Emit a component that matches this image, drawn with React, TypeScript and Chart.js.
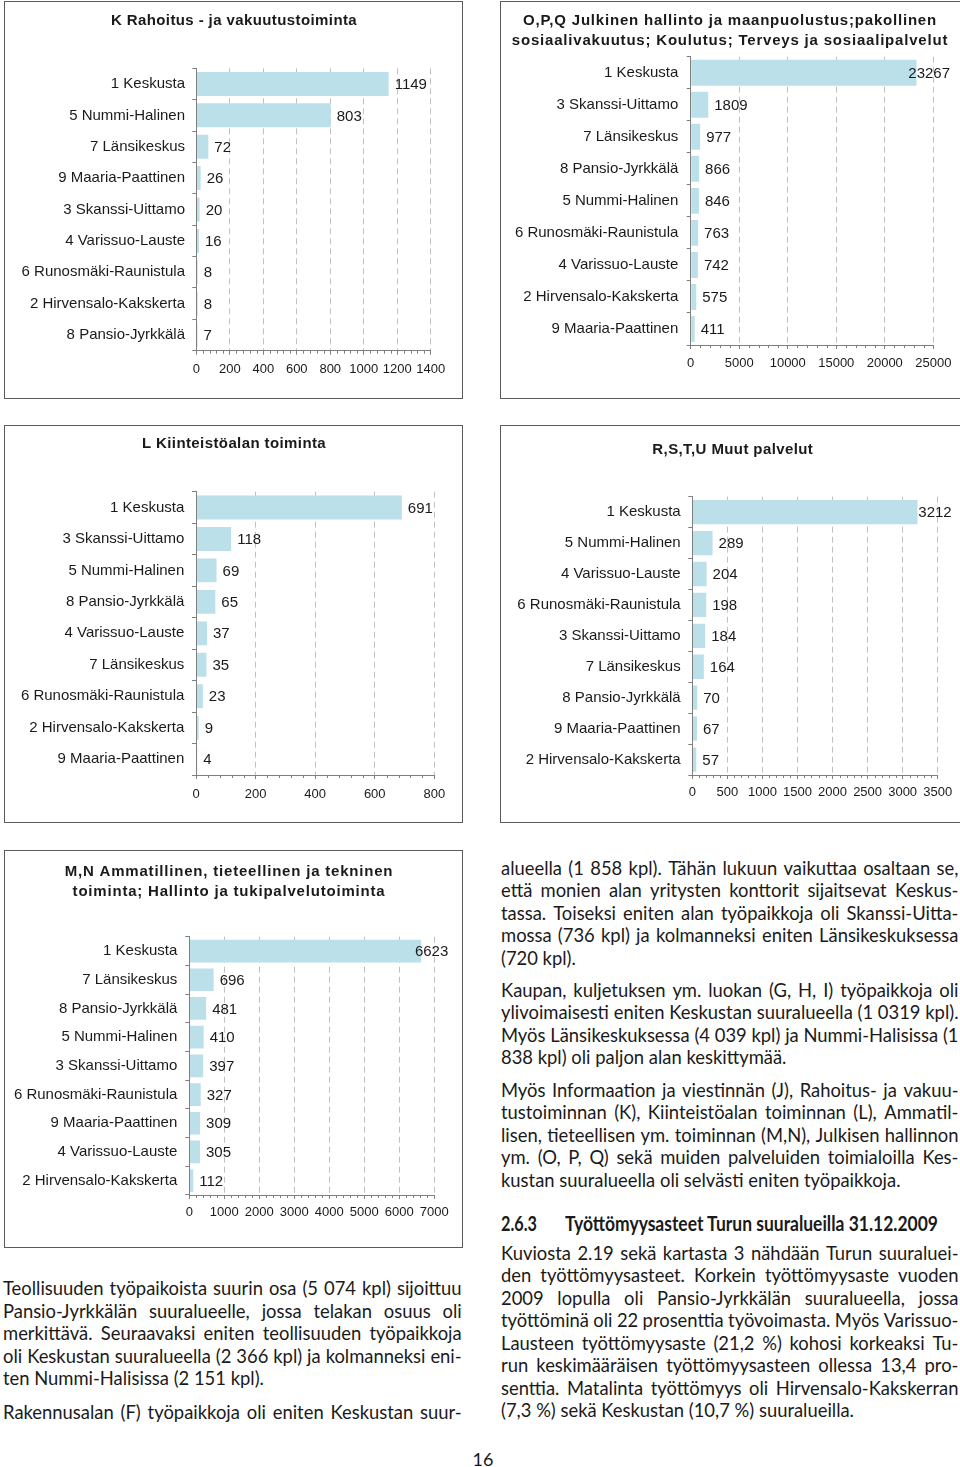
import React, { useEffect, useLayoutEffect, useRef } from 'react';
import { Chart, registerables } from 'chart.js';
Chart.register(...registerables);

// ---------- DATA ----------
const kLabels = ['1 Keskusta', '5 Nummi-Halinen', '7 Länsikeskus', '9 Maaria-Paattinen', '3 Skanssi-Uittamo', '4 Varissuo-Lauste', '6 Runosmäki-Raunistula', '2 Hirvensalo-Kakskerta', '8 Pansio-Jyrkkälä'];
const kValues = [1149, 803, 72, 26, 20, 16, 8, 8, 7];
const kTicks = [0, 200, 400, 600, 800, 1000, 1200, 1400];

const opqLabels = ['1 Keskusta', '3 Skanssi-Uittamo', '7 Länsikeskus', '8 Pansio-Jyrkkälä', '5 Nummi-Halinen', '6 Runosmäki-Raunistula', '4 Varissuo-Lauste', '2 Hirvensalo-Kakskerta', '9 Maaria-Paattinen'];
const opqValues = [23267, 1809, 977, 866, 846, 763, 742, 575, 411];
const opqTicks = [0, 5000, 10000, 15000, 20000, 25000];

const lLabels = ['1 Keskusta', '3 Skanssi-Uittamo', '5 Nummi-Halinen', '8 Pansio-Jyrkkälä', '4 Varissuo-Lauste', '7 Länsikeskus', '6 Runosmäki-Raunistula', '2 Hirvensalo-Kakskerta', '9 Maaria-Paattinen'];
const lValues = [691, 118, 69, 65, 37, 35, 23, 9, 4];
const lTicks = [0, 200, 400, 600, 800];

const rstuLabels = ['1 Keskusta', '5 Nummi-Halinen', '4 Varissuo-Lauste', '6 Runosmäki-Raunistula', '3 Skanssi-Uittamo', '7 Länsikeskus', '8 Pansio-Jyrkkälä', '9 Maaria-Paattinen', '2 Hirvensalo-Kakskerta'];
const rstuValues = [3212, 289, 204, 198, 184, 164, 70, 67, 57];
const rstuTicks = [0, 500, 1000, 1500, 2000, 2500, 3000, 3500];

const mnLabels = ['1 Keskusta', '7 Länsikeskus', '8 Pansio-Jyrkkälä', '5 Nummi-Halinen', '3 Skanssi-Uittamo', '6 Runosmäki-Raunistula', '9 Maaria-Paattinen', '4 Varissuo-Lauste', '2 Hirvensalo-Kakskerta'];
const mnValues = [6623, 696, 481, 410, 397, 327, 309, 305, 112];
const mnTicks = [0, 1000, 2000, 3000, 4000, 5000, 6000, 7000];

const kTitle = ['K Rahoitus - ja vakuutustoiminta'];
const opqTitle = ['O,P,Q Julkinen hallinto ja maanpuolustus;pakollinen', 'sosiaalivakuutus; Koulutus; Terveys ja sosiaalipalvelut'];
const lTitle = ['L Kiinteistöalan toiminta'];
const rstuTitle = ['R,S,T,U Muut palvelut'];
const mnTitle = ['M,N Ammatillinen, tieteellinen ja tekninen', 'toiminta; Hallinto ja tukipalvelutoiminta'];

// ---------- TEXT ----------
const rightP1 = [
  'alueella (1 858 kpl). Tähän lukuun vaikuttaa osaltaan se,',
  'että monien alan yritysten konttorit sijaitsevat Keskus-',
  'tassa. Toiseksi eniten alan työpaikkoja oli Skanssi-Uitta-',
  'mossa (736 kpl) ja kolmanneksi eniten Länsikeskuksessa',
  '(720 kpl).',
];
const rightP2 = [
  'Kaupan, kuljetuksen ym. luokan (G, H, I) työpaikkoja oli',
  'ylivoimaisesti eniten Keskustan suuralueella (1 0319 kpl).',
  'Myös Länsikeskuksessa (4 039 kpl) ja Nummi-Halisissa (1',
  '838 kpl) oli paljon alan keskittymää.',
];
const rightP3 = [
  'Myös Informaation ja viestinnän (J), Rahoitus- ja vakuu-',
  'tustoiminnan (K), Kiinteistöalan toiminnan (L), Ammatil-',
  'lisen, tieteellisen ym. toiminnan (M,N), Julkisen hallinnon',
  'ym. (O, P, Q) sekä muiden palveluiden toimialoilla Kes-',
  'kustan suuralueella oli selvästi eniten työpaikkoja.',
];
const headingNum = '2.6.3';
const headingText = 'Työttömyysasteet Turun suuralueilla 31.12.2009';
const rightP4 = [
  'Kuviosta 2.19 sekä kartasta 3 nähdään Turun suuraluei-',
  'den työttömyysasteet. Korkein työttömyysaste vuoden',
  '2009 lopulla oli Pansio-Jyrkkälän suuralueella, jossa',
  'työttöminä oli 22 prosenttia työvoimasta. Myös Varissuo-',
  'Lausteen työttömyysaste (21,2 %) kohosi korkeaksi Tu-',
  'run keskimääräisen työttömyysasteen ollessa 13,4 pro-',
  'senttia. Matalinta työttömyys oli Hirvensalo-Kakskerran',
  '(7,3 %) sekä Keskustan (10,7 %) suuralueilla.',
];
const leftP1 = [
  'Teollisuuden työpaikoista suurin osa (5 074 kpl) sijoittuu',
  'Pansio-Jyrkkälän suuralueelle, jossa telakan osuus oli',
  'merkittävä. Seuraavaksi eniten teollisuuden työpaikkoja',
  'oli Keskustan suuralueella (2 366 kpl) ja kolmanneksi eni-',
  'ten Nummi-Halisissa (2 151 kpl).',
];
const leftP2 = ['Rakennusalan (F) työpaikkoja oli eniten Keskustan suur-'];
const pageNumber = '16';

// ---------- STYLE ----------
const CHART_FONT = '"Liberation Sans", Arial, Helvetica, sans-serif';
const TEXT_FONT = 'Lato, "Open Sans", sans-serif';
const BAR_COLOR = '#bce0ea';
const AXIS_COLOR = '#7f7f7f';
const GRID_COLOR = '#c0c0c0';
const INK = '#1a1a1a';

type Box = { x: number; y: number; w: number; h: number };
type PanelCfg = {
  box: Box;
  title: string[];
  titleX: number;
  titleY: number[];
  titleLS: number;
  labels: string[];
  values: number[];
  ticks: number[];
  plot: { left: number; right: number; top: number; bottom: number };
  tickLabelY: number;
  catRight: number;
  barPct: number;
  labelLimit: number;
};

const panels: PanelCfg[] = [
  {
    box: { x: 4, y: 1, w: 459, h: 398 },
    title: kTitle, titleX: 234, titleY: [20.7], titleLS: 0.4,
    labels: kLabels, values: kValues, ticks: kTicks,
    plot: { left: 196.3, right: 430.7, top: 68.3, bottom: 350.7 },
    tickLabelY: 369, catRight: 185, barPct: 0.765, labelLimit: 460,
  },
  {
    box: { x: 500, y: 1, w: 462, h: 398 },
    title: opqTitle, titleX: 730, titleY: [20.7, 40.7], titleLS: 0.8,
    labels: opqLabels, values: opqValues, ticks: opqTicks,
    plot: { left: 690.7, right: 933.3, top: 56.7, bottom: 345 },
    tickLabelY: 363.3, catRight: 678.3, barPct: 0.81, labelLimit: 950,
  },
  {
    box: { x: 4, y: 425, w: 459, h: 398 },
    title: lTitle, titleX: 234, titleY: [444], titleLS: 0.4,
    labels: lLabels, values: lValues, ticks: lTicks,
    plot: { left: 196, right: 434.3, top: 491.7, bottom: 775 },
    tickLabelY: 794, catRight: 184.3, barPct: 0.76, labelLimit: 460,
  },
  {
    box: { x: 500, y: 425, w: 462, h: 398 },
    title: rstuTitle, titleX: 732.8, titleY: [450], titleLS: 0.4,
    labels: rstuLabels, values: rstuValues, ticks: rstuTicks,
    plot: { left: 692.3, right: 937.7, top: 496.7, bottom: 775 },
    tickLabelY: 792.7, catRight: 680.7, barPct: 0.786, labelLimit: 951.7,
  },
  {
    box: { x: 4, y: 850, w: 459, h: 398 },
    title: mnTitle, titleX: 229, titleY: [872.3, 892.3], titleLS: 0.8,
    labels: mnLabels, values: mnValues, ticks: mnTicks,
    plot: { left: 189.3, right: 434.3, top: 936.7, bottom: 1195 },
    tickLabelY: 1212.7, catRight: 177.3, barPct: 0.79, labelLimit: 448.3,
  },
];

function BarPanel({ cfg }: { cfg: PanelCfg }) {
  const ref = useRef<HTMLCanvasElement>(null);
  const cw = cfg.box.w - 2;
  const ch = cfg.box.h - 2;
  useEffect(() => {
    const canvas = ref.current;
    if (!canvas) return;
    const cx = cfg.box.x + 1;
    const cy = cfg.box.y + 1;
    const yWidth = cfg.plot.left - cx;
    const xHeight = ch - (cfg.plot.bottom - cy);
    const padRight = cw - (cfg.plot.right - cx);
    const padTop = cfg.plot.top - cy;
    const tickLen = 4;
    const tickFont = 13;
    const tickPad = cfg.tickLabelY - cfg.plot.bottom - tickLen - (tickFont * 1.2) / 2;
    const catPad = cfg.plot.left - cfg.catRight - tickLen;
    const ticks = cfg.ticks;
    const maxV = ticks[ticks.length - 1];
    const step = ticks[1] - ticks[0];

    const decor = {
      id: 'panelDecor',
      afterDatasetsDraw(chart: any) {
        const ctx = chart.ctx;
        const meta = chart.getDatasetMeta(0);
        ctx.save();
        ctx.font = `15px ${CHART_FONT}`;
        ctx.fillStyle = INK;
        ctx.textBaseline = 'middle';
        ctx.textAlign = 'left';
        const limit = cfg.labelLimit - cx;
        meta.data.forEach((bar: any, i: number) => {
          const text = String(cfg.values[i]);
          const w = ctx.measureText(text).width;
          let x = bar.x + 6;
          if (x + w > limit) x = limit - w;
          ctx.fillText(text, x, bar.y + 1);
        });
        ctx.restore();
      },
      afterDraw(chart: any) {
        const ctx = chart.ctx;
        ctx.save();
        // title
        ctx.font = `bold 15px ${CHART_FONT}`;
        (ctx as any).letterSpacing = `${cfg.titleLS}px`;
        ctx.fillStyle = INK;
        ctx.textAlign = 'center';
        ctx.textBaseline = 'middle';
        cfg.title.forEach((t, i) => ctx.fillText(t, cfg.titleX - cx, cfg.titleY[i] - cy));
        (ctx as any).letterSpacing = '0px';
        // minor ticks
        const xs = chart.scales.x;
        const minor = step / 5;
        const n = Math.round(maxV / minor);
        ctx.strokeStyle = AXIS_COLOR;
        ctx.lineWidth = 1;
        ctx.beginPath();
        for (let i = 1; i < n; i++) {
          if (i % 5 === 0) continue;
          const px = Math.round(xs.getPixelForValue(i * minor)) + 0.5;
          ctx.moveTo(px, xs.top);
          ctx.lineTo(px, xs.top + 3);
        }
        ctx.stroke();
        ctx.restore();
      },
    };

    const chart = new Chart(canvas, {
      type: 'bar',
      data: {
        labels: cfg.labels,
        datasets: [
          {
            data: cfg.values,
            backgroundColor: BAR_COLOR,
            borderWidth: 0,
            barPercentage: cfg.barPct,
            categoryPercentage: 1,
          },
        ],
      },
      options: {
        indexAxis: 'y',
        responsive: false,
        maintainAspectRatio: false,
        animation: false,
        devicePixelRatio: 1,
        layout: { padding: { top: padTop, right: padRight, bottom: 0, left: 0 } },
        plugins: {
          legend: { display: false },
          tooltip: { enabled: false },
          title: { display: false },
        },
        scales: {
          x: {
            type: 'linear',
            min: 0,
            max: maxV,
            afterBuildTicks: (s: any) => {
              s.ticks = ticks.map((v) => ({ value: v }));
            },
            afterFit: (s: any) => {
              s.height = xHeight;
            },
            ticks: {
              font: { family: CHART_FONT, size: tickFont },
              color: INK,
              padding: tickPad,
              maxRotation: 0,
              autoSkip: false,
              callback: (v: any) => String(v),
            },
            grid: {
              color: (c: any) => (c.tick && c.tick.value === 0 ? 'rgba(0,0,0,0)' : GRID_COLOR),
              lineWidth: 1,
              drawTicks: true,
              tickLength: tickLen,
              tickColor: AXIS_COLOR,
            },
            border: { display: true, color: AXIS_COLOR, dash: [6, 4], z: 1 },
          },
          y: {
            afterFit: (s: any) => {
              s.width = yWidth;
            },
            ticks: {
              font: { family: CHART_FONT, size: 15 },
              color: INK,
              padding: catPad,
              autoSkip: false,
            },
            grid: {
              drawOnChartArea: false,
              drawTicks: true,
              tickLength: tickLen,
              color: AXIS_COLOR,
              tickColor: AXIS_COLOR,
              offset: true,
            },
            border: { display: true, color: AXIS_COLOR, z: 1 },
          },
        },
      } as any,
      plugins: [decor],
    });
    return () => chart.destroy();
  }, [cfg, cw, ch]);

  return (
    <div
      style={{
        position: 'absolute',
        left: cfg.box.x,
        top: cfg.box.y,
        width: cfg.box.w,
        height: cfg.box.h,
        boxSizing: 'border-box',
        border: '1px solid #5a5a5a',
        background: '#fff',
      }}
    >
      <canvas ref={ref} width={cw} height={ch} style={{ position: 'absolute', left: 0, top: 0, display: 'block' }} />
    </div>
  );
}

const LH = 22.5;
const TEXT_SIZE = 18.4;

function TextLine({ text, left, centerY, width, justify }: { text: string; left: number; centerY: number; width: number; justify: boolean }) {
  const ref = useRef<HTMLDivElement>(null);
  useLayoutEffect(() => {
    const el = ref.current;
    if (!el) return;
    el.style.transform = 'none';
    const sw = el.scrollWidth;
    if (sw > width + 0.5) el.style.transform = `scaleX(${width / sw})`;
  }, [text, width]);
  const words = text.split(' ');
  return (
    <div
      ref={ref}
      style={{
        position: 'absolute',
        left,
        top: centerY - LH / 2 - 0.5,
        width,
        height: LH,
        lineHeight: `${LH}px`,
        fontSize: TEXT_SIZE,
        fontFamily: TEXT_FONT,
        color: INK,
        whiteSpace: 'nowrap',
        display: justify ? 'flex' : 'block',
        justifyContent: 'space-between',
        columnGap: justify ? '0.2em' : undefined,
        transformOrigin: '0 0',
      }}
    >
      {justify ? words.map((w, i) => <span key={i}>{w}</span>) : text}
    </div>
  );
}

function Paragraph({ lines, left, firstY, width, lastJustified }: { lines: string[]; left: number; firstY: number; width: number; lastJustified?: boolean }) {
  return (
    <>
      {lines.map((t, i) => (
        <TextLine
          key={i}
          text={t}
          left={left}
          centerY={firstY + i * LH}
          width={width}
          justify={i < lines.length - 1 || !!lastJustified}
        />
      ))}
    </>
  );
}

function FitText({ text, left, centerY, width, size, bold }: { text: string; left: number; centerY: number; width: number; size: number; bold?: boolean }) {
  const ref = useRef<HTMLSpanElement>(null);
  useLayoutEffect(() => {
    const el = ref.current;
    if (!el) return;
    el.style.transform = 'none';
    const w = el.getBoundingClientRect().width;
    if (w > 0) el.style.transform = `scaleX(${width / w})`;
  }, [text, width]);
  const lh = size * 1.2;
  return (
    <span
      ref={ref}
      style={{
        position: 'absolute',
        left,
        top: centerY - lh / 2,
        lineHeight: `${lh}px`,
        fontSize: size,
        fontWeight: bold ? 700 : 400,
        fontFamily: TEXT_FONT,
        color: INK,
        whiteSpace: 'nowrap',
        transformOrigin: '0 0',
      }}
    >
      {text}
    </span>
  );
}

export default function App() {
  return (
    <div
      style={{
        position: 'absolute',
        left: 0,
        top: 0,
        width: 960,
        height: 1467,
        overflow: 'hidden',
        background: '#fff',
      }}
    >
      {panels.map((p, i) => (
        <BarPanel key={i} cfg={p} />
      ))}
      <Paragraph lines={rightP1} left={501} firstY={868.3} width={457.5} />
      <Paragraph lines={rightP2} left={501} firstY={990.7} width={457.5} />
      <Paragraph lines={rightP3} left={501} firstY={1090.7} width={457.5} />
      <FitText text={headingNum} left={501} centerY={1222.7} width={36} size={21} bold />
      <FitText text={headingText} left={565} centerY={1222.7} width={373} size={21} bold />
      <Paragraph lines={rightP4} left={501} firstY={1253.3} width={457.5} />
      <Paragraph lines={leftP1} left={3} firstY={1288.8} width={458.7} />
      <Paragraph lines={leftP2} left={3} firstY={1412.7} width={458.7} lastJustified />
      <div
        style={{
          position: 'absolute',
          left: 463,
          top: 1459 - 11,
          width: 40,
          textAlign: 'center',
          lineHeight: '22px',
          fontSize: 18,
          fontFamily: TEXT_FONT,
          color: INK,
        }}
      >
        {pageNumber}
      </div>
    </div>
  );
}
